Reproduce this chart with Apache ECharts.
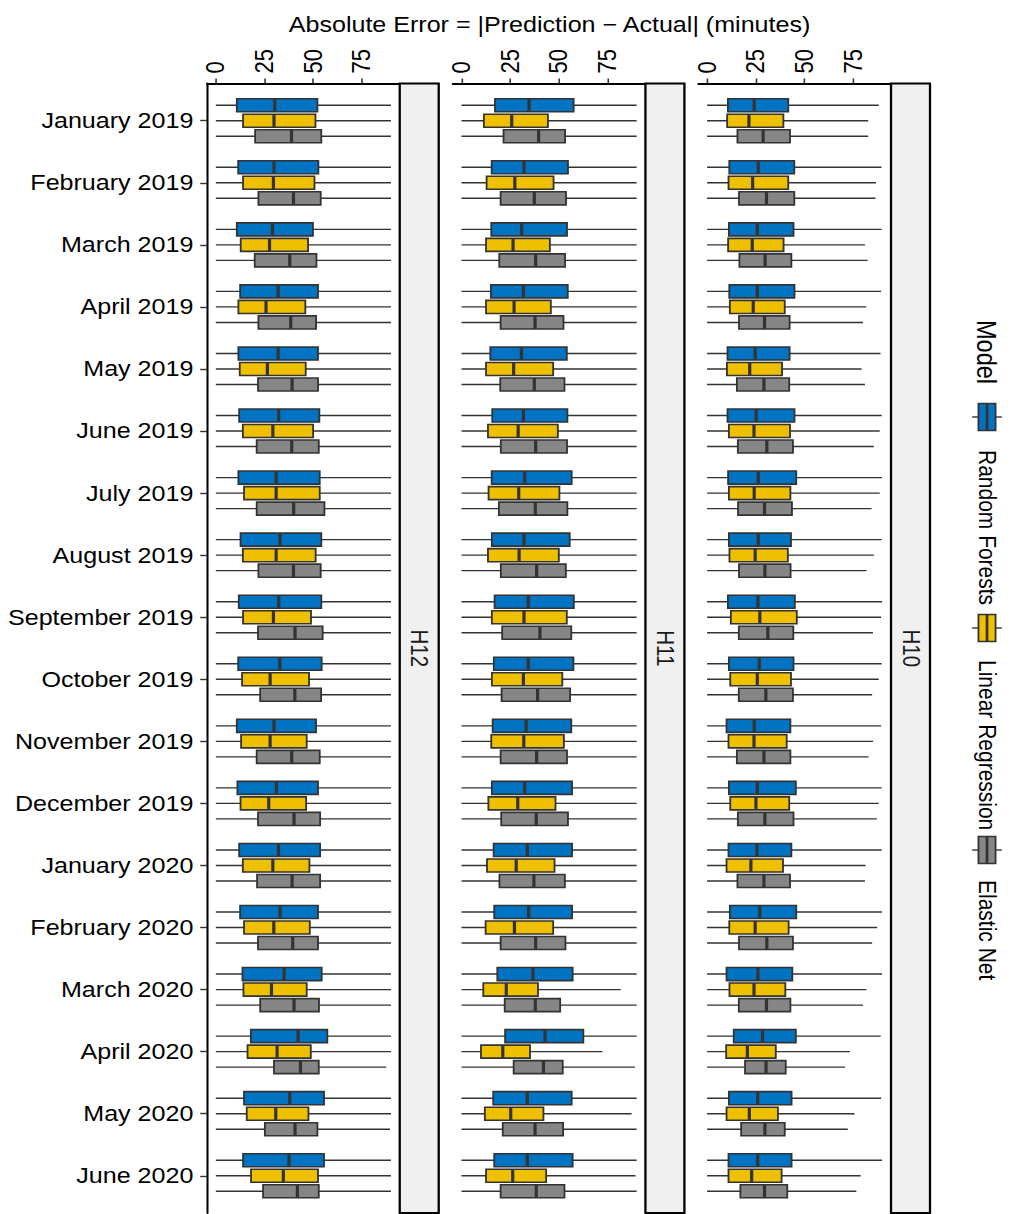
<!DOCTYPE html>
<html><head><meta charset="utf-8">
<script src="https://cdn.jsdelivr.net/npm/echarts@6/dist/echarts.min.js"></script>
<style>
html,body{margin:0;padding:0;background:#fff;overflow:hidden;}
#main{width:892px;height:1214px;transform:scaleX(1.14013);transform-origin:0 0;}
</style>
</head><body><div id="main"></div>
<script>
const months = ['January 2019','February 2019','March 2019','April 2019','May 2019','June 2019','July 2019','August 2019','September 2019','October 2019','November 2019','December 2019','January 2020','February 2020','March 2020','April 2020','May 2020','June 2020'];
const models = ['Random Forests','Linear Regression','Elastic Net'];
const modelColors = ['#0073C2','#EFC000','#868686'];
const panelNames = ['H12','H11','H10'];
const xTicks = [0,25,50,75];
const axisTitle = 'Absolute Error = |Prediction \u2212 Actual| (minutes)';
const legendTitle = 'Model';

// each row: [lower whisker, Q1, median, Q3, upper whisker]
const h12RandomForests = [[0,10.8,30.3,52.2,90],[0,11.5,29.9,52.7,90],[0,10.8,29.1,49.9,90],[0,12.5,32.0,52.5,90],[0,11.6,32.0,52.5,90],[0,12.0,32.3,53.2,90],[0,11.6,31.0,53.4,90],[0,12.7,33.0,54.2,90],[0,11.8,32.3,54.2,90],[0,11.5,32.9,54.4,90],[0,10.8,29.9,51.5,90],[0,11.1,31.1,52.5,90],[0,12.0,32.2,53.6,90],[0,12.5,33.0,52.5,90],[0,13.7,35.1,54.4,90],[0,18.0,42.3,57.3,90],[0,14.5,38.0,55.6,90],[0,14.0,37.6,55.6,90]];
const h12LinearRegression = [[0,14.0,29.9,51.2,90],[0,14.0,29.6,50.7,90],[0,12.8,27.6,47.4,90],[0,11.6,25.8,46.0,90],[0,12.3,26.5,46.2,90],[0,13.9,29.3,50.0,90],[0,14.5,31.0,53.4,90],[0,13.9,31.0,51.3,90],[0,14.0,29.6,48.9,90],[0,13.5,27.9,47.9,90],[0,13.0,27.9,46.7,90],[0,12.7,27.2,46.4,90],[0,13.9,29.3,48.1,90],[0,14.5,29.8,48.3,90],[0,14.2,28.6,46.7,90],[0,16.3,31.5,48.8,90],[0,15.9,30.8,47.6,90],[0,18.1,34.7,52.5,90]];
const h12ElasticNet = [[0,20.2,38.9,54.2,90],[0,21.9,39.9,53.9,90],[0,20.0,38.0,51.7,90],[0,21.9,38.5,51.5,90],[0,21.7,39.2,52.5,90],[0,21.0,39.0,52.9,90],[0,21.0,40.0,55.8,90],[0,21.9,39.9,53.9,90],[0,21.7,40.7,54.9,90],[0,22.8,40.6,54.1,90],[0,21.0,39.0,53.4,90],[0,21.7,40.2,53.6,90],[0,21.2,39.2,53.6,90],[0,21.7,39.5,52.5,90],[0,22.8,40.2,53.0,90],[0,29.9,43.5,52.9,87.6],[0,25.2,40.7,52.2,89.5],[0,24.3,41.9,52.9,90]];

const h11RandomForests = [[0,17.2,34.7,57.6,90],[0,15.5,32.1,54.7,90],[0,15.3,30.9,54.2,90],[0,15.1,31.8,54.6,90],[0,14.8,30.8,54.1,90],[0,15.8,31.8,54.4,90],[0,15.5,32.5,56.6,90],[0,15.6,32.1,55.6,90],[0,17.0,34.3,57.7,90],[0,16.6,34.3,57.5,90],[0,16.0,33.2,56.4,90],[0,15.6,32.5,56.8,90],[0,16.5,33.8,56.8,90],[0,16.8,34.5,56.8,90],[0,18.4,36.7,57.1,90],[0,22.4,42.9,62.6,90],[0,16.3,33.8,56.6,90],[0,16.8,33.8,57.1,90]];
const h11LinearRegression = [[0,11.5,25.8,44.4,90],[0,12.9,27.4,47.3,90],[0,12.6,26.5,45.4,90],[0,12.6,27.0,45.9,90],[0,12.6,26.8,47.1,90],[0,13.6,29.1,49.5,90],[0,13.9,29.4,50.3,90],[0,13.6,29.6,50.0,90],[0,15.6,32.1,54.1,90],[0,15.6,31.8,51.8,90],[0,15.3,32.0,52.6,90],[0,13.8,28.9,48.3,90],[0,13.1,28.1,47.8,90],[0,12.4,27.2,47.1,90],[0,11.2,23.0,39.3,81.8],[0,10.0,21.2,35.2,72.4],[0,12.0,25.3,42.1,87.4],[0,12.6,26.3,43.5,89.4]];
const h11ElasticNet = [[0,21.6,39.6,53.2,90],[0,20.1,37.4,53.7,90],[0,19.4,38.1,53.2,90],[0,20.1,37.8,52.4,90],[0,19.9,37.4,52.9,90],[0,20.2,38.1,54.2,90],[0,19.2,37.9,54.4,90],[0,20.2,38.6,53.6,90],[0,20.9,40.3,56.4,90],[0,20.6,39.1,55.8,90],[0,20.1,38.6,54.2,90],[0,20.4,38.4,54.7,90],[0,19.5,37.2,53.1,90],[0,20.1,38.1,53.4,90],[0,22.2,37.9,50.7,90],[0,26.8,42.1,52.0,89.1],[0,21.2,37.8,52.2,90],[0,20.1,38.4,52.9,90]];

const h10RandomForests = [[0,10.7,24.2,41.7,88.2],[0,11.4,26.3,44.8,89.6],[0,11.2,25.8,44.4,89.7],[0,11.4,25.8,44.9,89.4],[0,10.5,24.7,42.4,89.1],[0,10.5,25.2,44.9,89.7],[0,10.8,26.3,45.8,89.9],[0,11.2,26.3,43.1,89.7],[0,10.7,26.1,45.1,89.9],[0,11.2,26.8,44.4,89.7],[0,10.0,24.2,42.8,89.4],[0,11.2,25.8,45.6,89.7],[0,11.0,25.6,43.3,89.7],[0,11.7,27.1,45.8,89.9],[0,10.0,26.1,43.8,89.9],[0,13.7,28.5,45.6,89.2],[0,11.2,26.0,43.4,89.4],[0,11.0,26.0,43.4,89.9]];
const h10LinearRegression = [[0,10.3,21.5,39.2,82.8],[0,11.0,23.4,41.7,86.8],[0,10.8,23.2,39.3,81.1],[0,11.7,23.7,39.9,81.8],[0,10.2,21.9,38.5,79.4],[0,11.2,24.1,42.6,88.7],[0,11.2,24.2,42.8,88.7],[0,11.5,24.7,41.5,85.7],[0,12.2,27.1,46.1,89.4],[0,11.9,25.8,43.1,88.2],[0,11.0,24.1,40.9,85.3],[0,11.9,25.1,42.2,88.2],[0,10.0,22.5,39.0,81.4],[0,11.4,24.7,41.9,87.4],[0,11.5,24.1,40.2,81.9],[0,9.8,20.7,35.3,73.4],[0,10.0,21.7,36.4,75.8],[0,11.0,22.9,38.3,78.9]];
const h10ElasticNet = [[0,15.6,28.8,42.6,82.8],[0,16.4,30.5,44.8,86.5],[0,16.6,29.8,43.3,82.5],[0,16.4,29.5,42.4,80.1],[0,15.3,29.2,42.2,81.1],[0,15.8,30.7,44.1,85.7],[0,15.9,29.5,43.6,84.5],[0,16.4,29.7,42.9,81.9],[0,16.3,31.2,44.3,85.2],[0,16.3,30.2,44.1,84.8],[0,15.3,29.2,42.8,83.0],[0,15.8,29.7,44.4,87.2],[0,15.6,29.2,42.6,81.1],[0,16.4,30.7,44.1,84.8],[0,16.3,30.5,42.8,80.1],[0,19.5,30.3,40.4,70.9],[0,17.5,29.7,39.9,72.3],[0,17.1,29.5,41.2,76.7]];

const panelData = [
  [h12RandomForests, h12LinearRegression, h12ElasticNet],
  [h11RandomForests, h11LinearRegression, h11ElasticNet],
  [h10RandomForests, h10LinearRegression, h10ElasticNet]
];

// ---- layout (design units; page is stretched horizontally by CSS) ----
const FONT = '"Liberation Sans", Arial, Helvetica, sans-serif';
const gridLeft = [181.6, 397.1, 612.5];
const gridW = 169.0, gridTop = 83.5, gridH = 1129.5, stripW = 34.2;
const monthIdx = months.map((m, i) => i);
const offsets = [-0.25, 0, 0.25];

function makeRender(off, color) {
  return function (params, api) {
    const k = api.value(0);
    const unit = api.size([0, 1])[1];
    const yc = api.coord([0, k])[1] + off * unit;
    const h = unit * 0.21;
    const px = d => api.coord([api.value(d), k])[0];
    const xLo = px(1), xQ1 = px(2), xMed = px(3), xQ3 = px(4), xHi = px(5);
    return { type: 'group', children: [
      { type: 'line', shape: { x1: xLo, y1: yc, x2: xHi, y2: yc }, style: { stroke: '#333333', lineWidth: 1.4 } },
      { type: 'rect', shape: { x: xQ1, y: yc - h / 2, width: xQ3 - xQ1, height: h }, style: { fill: color, stroke: '#333333', lineWidth: 1.6 } },
      { type: 'line', shape: { x1: xMed, y1: yc - h / 2, x2: xMed, y2: yc + h / 2 }, style: { stroke: '#333333', lineWidth: 2.8 } }
    ]};
  };
}

const grid = [], xAxis = [], yAxis = [], series = [], graphic = [];
panelNames.forEach((name, i) => {
  grid.push({ left: gridLeft[i], top: gridTop, width: gridW, height: gridH });
  xAxis.push({
    gridIndex: i, type: 'value', position: 'top', min: -4.5, max: 94.5,
    axisLine: { show: true, onZero: false, lineStyle: { color: '#000', width: 1.8 } },
    axisTick: { show: true, length: 5, customValues: xTicks, lineStyle: { color: '#333', width: 1.4 } },
    axisLabel: { customValues: xTicks, rotate: -90, margin: 10, fontSize: 22, color: '#000', fontFamily: FONT },
    splitLine: { show: false }
  });
  yAxis.push({
    gridIndex: i, type: 'value', min: -0.6, max: 17.6, inverse: true,
    axisLine: { show: i === 0, onZero: false, lineStyle: { color: '#000', width: 1.8 } },
    axisTick: { show: i === 0, length: 6, customValues: monthIdx, lineStyle: { color: '#333', width: 1.4 } },
    axisLabel: { show: i === 0, customValues: monthIdx, formatter: v => months[Math.round(v)], margin: 12, fontSize: 22, color: '#000', fontFamily: FONT },
    splitLine: { show: false }
  });
  models.forEach((m, j) => {
    series.push({
      type: 'custom', name: m, xAxisIndex: i, yAxisIndex: i,
      renderItem: makeRender(offsets[j], modelColors[j]),
      encode: { x: [1, 2, 3, 4, 5], y: 0 },
      data: panelData[i][j].map((r, k) => [k].concat(r))
    });
  });
  const sx = gridLeft[i] + gridW;
  graphic.push({ type: 'rect', shape: { x: sx, y: gridTop, width: stripW, height: gridH }, style: { fill: '#F0F0F0', stroke: '#000', lineWidth: 2 }, z: 10 });
  graphic.push({ type: 'text', x: sx + stripW / 2, y: gridTop + gridH / 2, rotation: -Math.PI / 2,
    style: { text: name, font: '20.5px ' + FONT, fill: '#1a1a1a', align: 'center', verticalAlign: 'middle' }, z: 11 });
});

// axis title
graphic.push({ type: 'text', x: 482, y: 25, style: { text: axisTitle, font: '22px ' + FONT, fill: '#000', align: 'center', verticalAlign: 'middle' } });

// legend (rotated)
const lx = 865.7;
graphic.push({ type: 'text', x: lx, y: 320, rotation: -Math.PI / 2, style: { text: legendTitle, font: '23.5px ' + FONT, fill: '#000', align: 'left', verticalAlign: 'middle' } });
const keyY = [417, 628, 850], labY = [450, 660, 880];
models.forEach((m, j) => {
  const cy = keyY[j];
  graphic.push({ type: 'line', shape: { x1: lx - 13, y1: cy, x2: lx + 13, y2: cy }, style: { stroke: '#333', lineWidth: 1.4 } });
  graphic.push({ type: 'rect', shape: { x: lx - 7.5, y: cy - 13.5, width: 15, height: 27 }, style: { fill: modelColors[j], stroke: '#333', lineWidth: 1.6 } });
  graphic.push({ type: 'line', shape: { x1: lx, y1: cy - 13.5, x2: lx, y2: cy + 13.5 }, style: { stroke: '#333', lineWidth: 2.4 } });
  graphic.push({ type: 'text', x: lx, y: labY[j], rotation: -Math.PI / 2, style: { text: m, font: '21px ' + FONT, fill: '#000', align: 'left', verticalAlign: 'middle' } });
});

const chart = echarts.init(document.getElementById('main'), null, { renderer: 'svg' });
chart.setOption({ animation: false, backgroundColor: '#fff', grid, xAxis, yAxis, series, graphic });
</script>
</body></html>
